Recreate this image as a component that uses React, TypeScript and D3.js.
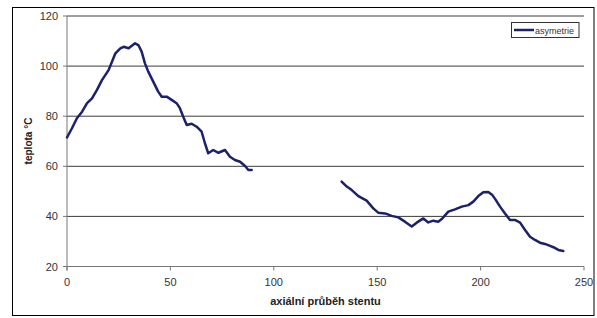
import React from "react";
import * as d3 from "d3";

// axial position along the stent (null = gap in measurement)
const positions: (number | null)[] = [
  0, 2.4, 4.8, 7.3, 9.7, 12.1, 14.5, 16.9, 18.5, 20.1, 21.8, 23.4, 25.8, 27.4, 29.8,
  32.9, 34.5, 36.1, 37.7, 39.3, 41.7, 44.1, 45.8, 48.2, 50.6, 53, 54.6, 56.2, 57.9,
  60.3, 62.7, 65.1, 66.7, 68.3, 70.7, 73.2, 76.4, 78.8, 81.2, 83.7, 86.1, 87.7, 89.3,
  null,
  132.8, 135.3, 137.7, 140.9, 144.9, 148.1, 150.5, 153.8, 157, 160.2, 163.4, 166.7,
  169.1, 172.3, 174.7, 177.1, 179.5, 181.5, 184.4, 187.6, 190.9, 194.1, 196.5, 198.9,
  201.3, 203.7, 205.7, 207, 209.4, 211.8, 214.2, 216.6, 219.1, 221.5, 223.9, 226.3,
  228.7, 231.1, 233.6, 235.2, 237.6, 240,
];

// temperature (°C), series "asymetrie"
const asymetrie: (number | null)[] = [
  71.5, 75.2, 79.2, 81.8, 85.2, 87.1, 90.5, 94.4, 96.4, 98.4, 101.8, 105.1, 107.1, 107.7, 107.1,
  109.1, 108.4, 105.8, 101.1, 97.8, 93.8, 89.8, 87.8, 87.8, 86.5, 85.2, 83.2, 79.8, 76.5,
  77.0, 75.8, 73.8, 69.2, 65.2, 66.5, 65.4, 66.5, 63.8, 62.5, 61.8, 60.1, 58.5, 58.5,
  null,
  53.9, 51.9, 50.5, 48.1, 46.3, 43.2, 41.5, 41.2, 40.2, 39.6, 37.9, 36.0,
  37.5, 39.2, 37.6, 38.3, 37.9, 39.2, 41.9, 42.8, 43.9, 44.5, 45.9, 48.1,
  49.6, 49.7, 48.5, 47.0, 43.9, 41.2, 38.6, 38.6, 37.5, 34.6, 31.9, 30.6,
  29.5, 29.0, 28.2, 27.7, 26.6, 26.2,
];

const xTicks = [0, 50, 100, 150, 200, 250];
const yTicks = [20, 40, 60, 80, 100, 120];

const W = 597, H = 318;
const font = "'Liberation Sans', Arial, sans-serif";

export default function App() {
  const x = d3.scaleLinear().domain([0, 250]).range([67, 584]);
  const y = d3.scaleLinear().domain([20, 120]).range([266.5, 16]);

  const pts = positions.map((p, i) => [p, asymetrie[i]] as [number | null, number | null]);
  const line = d3.line<[number | null, number | null]>()
    .defined(d => d[0] != null && d[1] != null)
    .x(d => x(d[0] as number))
    .y(d => y(d[1] as number))
    .curve(d3.curveLinear);

  return (
    <svg width={W} height={H} style={{ position: "absolute", left: 0, top: 0, background: "#fff" }}>
      <rect x={12.5} y={7.5} width={581.5} height={308} fill="#fff" stroke="#000" strokeWidth={1} />

      {/* grid */}
      {yTicks.filter(t => t > 20).map(t => (
        <line key={t} x1={x(0)} x2={x(250)} y1={y(t)} y2={y(t)} stroke="#3c3c3c" strokeWidth={1} />
      ))}

      {/* axes */}
      <line x1={x(0)} x2={x(0)} y1={y(120)} y2={y(20) + 4} stroke="#777" strokeWidth={1} />
      <line x1={x(0) - 4} x2={x(250)} y1={y(20)} y2={y(20)} stroke="#777" strokeWidth={1} />
      {yTicks.map(t => (
        <g key={t}>
          <line x1={x(0) - 4} x2={x(0)} y1={y(t)} y2={y(t)} stroke="#777" />
          <text x={58} y={y(t) + 4} textAnchor="end" fontFamily={font} fontSize={11} fill="#333">{t}</text>
        </g>
      ))}
      {xTicks.map(t => (
        <g key={t}>
          <line x1={x(t)} x2={x(t)} y1={y(20)} y2={y(20) + 4} stroke="#777" />
          <text x={x(t)} y={286} textAnchor="middle" fontFamily={font} fontSize={11} fill="#333">{t}</text>
        </g>
      ))}

      <text x={325.5} y={305} textAnchor="middle" fontFamily={font} fontSize={11} fontWeight="bold" fill="#222">
        axiální průběh stentu
      </text>
      <text transform="translate(32,141) rotate(-90)" textAnchor="middle" fontFamily={font} fontSize={10} fontWeight="bold" fill="#222">
        teplota °C
      </text>

      <path d={line(pts) || ""} fill="none" stroke="#1b216b" strokeWidth={2.5} strokeLinejoin="round" strokeLinecap="round" />

      {/* legend */}
      <rect x={511.5} y={22.5} width={67.5} height={15} fill="#fff" stroke="#333" strokeWidth={1} />
      <line x1={514} x2={534} y1={30} y2={30} stroke="#1b216b" strokeWidth={2.5} />
      <text x={535} y={33.5} fontFamily={font} fontSize={9} fill="#333">asymetrie</text>
    </svg>
  );
}
